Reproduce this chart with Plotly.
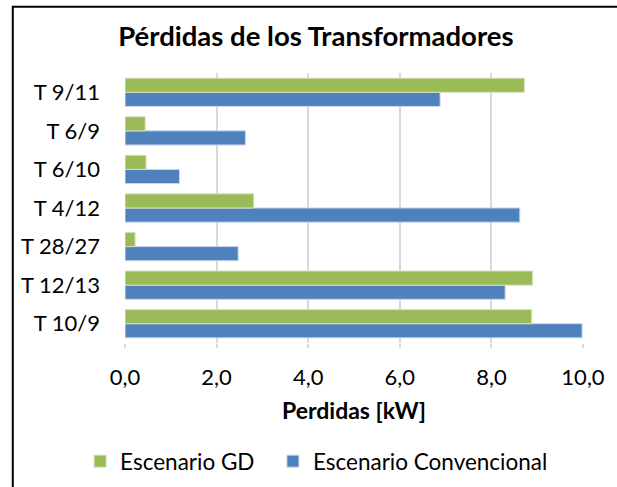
import plotly.graph_objects as go

categories = ["T 10/9", "T 12/13", "T 28/27", "T 4/12", "T 6/10", "T 6/9", "T 9/11"]
escenario_gd = [8.88, 8.90, 0.22, 2.81, 0.46, 0.44, 8.72]
escenario_conv = [9.98, 8.30, 2.47, 8.62, 1.19, 2.63, 6.88]
x_ticks = [0, 2, 4, 6, 8, 10]
x_tick_labels = ["0,0", "2,0", "4,0", "6,0", "8,0", "10,0"]

FONT = "Lato"
fig = go.Figure()
fig.add_trace(go.Bar(
    y=categories, x=escenario_conv, orientation="h", name="Escenario Convencional",
    marker=dict(color="#4F81BD", line=dict(color="#c9d7ea", width=1)), legend="legend2",
    showlegend=True,
))
fig.add_trace(go.Bar(
    y=categories, x=escenario_gd, orientation="h", name="Escenario GD",
    marker=dict(color="#9BBB59", line=dict(color="#d4e2b8", width=1)), legend="legend",
    showlegend=True,
))

legend_common = dict(orientation="h", xanchor="left", y=-0.439, yanchor="middle",
                     font=dict(size=22.5), itemwidth=30, bgcolor="rgba(0,0,0,0)")

fig.update_layout(
    width=617, height=487,
    showlegend=True,
    margin=dict(l=125, r=34, t=73, b=144, autoexpand=False),
    paper_bgcolor="white", plot_bgcolor="white",
    barmode="group", bargap=0.267, bargroupgap=0,
    font=dict(family=FONT, size=21, color="black"),
    title=dict(text="<b>Pérdidas de los Transformadores</b>", x=0.512, xanchor="center",
               y=0.925, yanchor="middle", font=dict(family=FONT, size=27.5, color="black")),
    xaxis=dict(range=[0, 10], tickvals=x_ticks, ticktext=x_tick_labels, automargin=False,
               showgrid=True, gridcolor="#d9d9d9", gridwidth=1.5, zeroline=False,
               showline=False, ticks="outside", ticklen=4, tickcolor="#d9d9d9", tickwidth=1.5,
               ticklabelstandoff=11, tickfont=dict(size=22)),
    yaxis=dict(showgrid=False, showline=False, zeroline=False, ticks="", automargin=False,
               ticklabelstandoff=24, tickfont=dict(size=22)),
    legend=dict(x=-0.098, **legend_common),
    legend2=dict(x=0.323, **legend_common),
    annotations=[dict(text="<b>Perdidas [kW]</b>", xref="paper", yref="paper", x=0.5, y=-0.248,
                      xanchor="center", yanchor="middle", showarrow=False,
                      font=dict(size=23, color="black"))],
    shapes=[dict(type="rect", xref="paper", yref="paper", x0=-0.245, x1=2, y0=-2, y1=1.245,
                 line=dict(color="black", width=2), fillcolor="rgba(0,0,0,0)", layer="above")],
)
fig.write_html("out.html", config={"displayModeBar": False},
               post_script="document.body.style.margin='0px';")
